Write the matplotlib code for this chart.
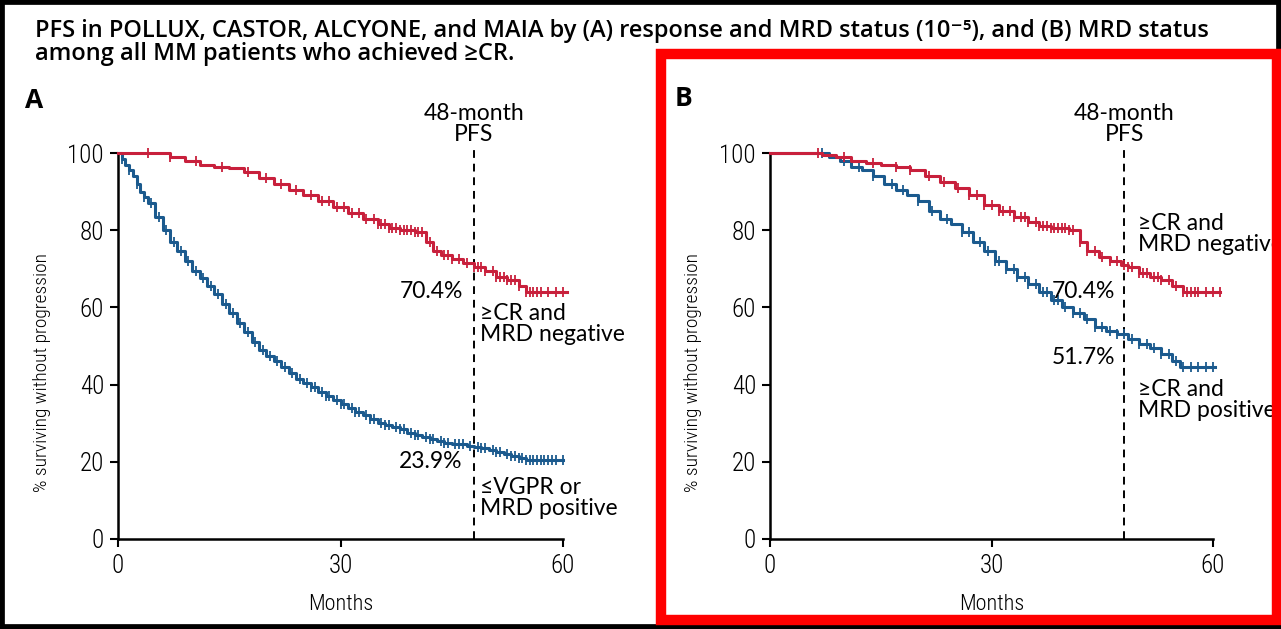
import numpy as np
import matplotlib
matplotlib.use('Agg')
from matplotlib import pyplot as plt
from matplotlib.patches import Rectangle

# Kaplan-Meier step points (months, % progression-free)
a_neg_t = [0, 5, 7, 9, 11, 13, 15, 17, 19, 21, 23, 25, 27, 29, 31, 33, 35, 36.5, 38, 40,
           41.5, 42.5, 43.5, 45, 46.5, 48, 49.5, 51, 52.5, 54, 55, 60.5]
a_neg_s = [100, 100, 99, 98, 97, 96.5, 96, 95, 93.5, 92, 90.5, 89, 87.5, 86, 84.5, 83, 81.5, 80.5, 80, 79.5,
           77, 74.5, 73.5, 72.5, 71.5, 70.4, 69.5, 68, 67, 65.5, 64, 64]
a_neg_cens = [4, 7, 10.5, 14, 17.5, 20, 22, 24, 26, 27.5, 28.5, 29.5, 30.5, 31.5, 32.5, 33.5, 34.5, 35,
              35.5, 36, 36.5, 37, 37.5, 38, 38.5, 39, 39.5, 40, 40.5, 41, 42, 43, 44, 44.5, 45, 46, 47,
              48, 48.5, 49, 49.5, 50.5, 51, 51.5, 52, 52.5, 53, 53.5, 54, 55, 55.5, 56, 56.5, 57, 58, 59, 60]

a_pos_t = [0, 0.5, 1, 1.5, 2, 2.5, 3, 3.5, 4, 5, 6, 7, 8, 9, 10, 11, 12, 13, 14, 15, 16, 17, 18, 19,
           20, 21, 22, 23, 24, 25, 26, 27, 28, 29, 30, 31, 32, 33, 34, 35, 36, 37, 38, 39, 40, 41, 42,
           43, 44, 45, 46, 47, 48, 49, 50, 51, 52, 53, 54, 55, 56, 60]
a_pos_s = [100, 98.5, 97, 95.5, 94, 92, 90, 88.5, 87, 83.5, 80, 77, 74.5, 72, 69.5, 67.5, 65.5, 63.5,
           61, 58.5, 56, 53.5, 51, 49, 47.5, 46, 44.5, 43, 41.5, 40.5, 39.5, 38, 37, 36, 35, 34, 33, 32,
           31, 30, 29.5, 29, 28.5, 27.5, 27, 26.5, 26, 25.5, 25, 24.5, 24.5, 24, 23.9, 23.5, 23, 22.5,
           22, 21.5, 21, 20.5, 20.5, 20.5]
a_pos_cens = [0.5, 1.5, 2.5, 3.5, 4.5, 5.5, 6.5, 7.5, 8.5, 9.5, 10.5, 11.5, 12.5, 13.5, 14.5, 15.5,
              16.5, 17.5, 18.5, 19.5, 20.5, 21.5, 22.5, 23.5, 24.5, 25.5, 26, 26.5, 27.5, 28, 28.5,
              29.5, 30, 30.5, 31.5, 32, 32.5, 33.5, 34, 34.5, 35.5, 36, 36.5, 37.5, 38, 38.5, 39.5,
              40, 40.5, 41.5, 42, 42.5, 43.5, 44, 44.5, 45.5, 46, 46.5, 47.5, 48.5, 49, 49.5, 50.5,
              51, 51.5, 52.5, 53, 53.5, 54, 54.5, 55, 55.5, 56, 56.5, 57, 57.5, 58, 58.5, 59, 60]

b_neg_t = [0, 4.5, 7, 9, 11, 13, 15, 17, 19, 21, 23, 25, 27, 29, 31, 33, 35, 36.5, 38, 40.5,
           42, 43, 44.5, 46, 47.5, 48.5, 50, 51.5, 53, 54.5, 56, 61]
b_neg_s = [100, 100, 99.5, 99, 98, 97.5, 97, 96.5, 95.5, 94, 92.5, 91, 89, 86.5, 85, 83.5, 82, 81,
           80.5, 80, 77, 74.5, 73, 72, 71, 70.4, 69, 68, 67, 65.5, 64, 64]
b_neg_cens = [6.5, 10, 14, 17, 19, 21.5, 23.5, 25.5, 27, 28, 29, 30, 31, 31.5, 32.5, 33, 34, 34.5,
              35, 36, 36.5, 37, 37.5, 38, 38.5, 39, 39.5, 40, 40.5, 41, 42, 43, 44, 45, 46, 47, 48,
              48.5, 49, 50, 50.5, 51, 52, 52.5, 53, 54, 55, 56, 56.5, 57, 57.5, 58, 59, 60, 61]

b_pos_t = [0, 6.5, 8, 9.5, 11, 12.5, 14, 15.5, 17, 18.5, 20, 21.5, 23, 24.5, 26, 27.5, 29, 30.5,
           32, 33.5, 35, 36.5, 38, 39.5, 41, 42.5, 44, 45.5, 47, 48.5, 50, 51.5, 53, 54.5, 55.5, 60.3]
b_pos_s = [100, 100, 99, 98, 96.5, 95.5, 94, 92, 90.5, 89, 87.5, 85, 83, 81.5, 79.5, 77, 74.5, 72,
           70, 68, 66, 64, 62, 60, 58.5, 57, 55, 54, 53, 51.7, 50.5, 49.5, 48, 46, 44.5, 44.5]
b_pos_cens = [7, 10, 12, 14, 16.5, 18, 20, 22, 24, 26, 27, 28.5, 29.5, 30.5, 31, 32, 33, 33.5,
              34.5, 35, 36, 37, 37.5, 38.5, 39, 40, 41, 42, 43, 44, 45, 46, 47, 48, 49, 50, 51, 52,
              53, 54, 55, 56, 57, 58, 59, 60]

RED = '#c8203c'
BLUE = '#1b5a8e'
TXT = ['Lato', 'DejaVu Sans']
NARROW = ['Roboto Condensed', 'DejaVu Sans']

W, H = 1281, 629
fig = plt.figure(figsize=(W / 100, H / 100), dpi=100)


def narrow(lab, size):
    lab.set_family(NARROW)
    lab.set_stretch('condensed')
    lab.set_fontweight('light')
    lab.set_fontsize(size)


def km(ax, t, s, cens, color):
    t = np.asarray(t, float)
    s = np.asarray(s, float)
    ax.plot(t, s, drawstyle='steps-post', color=color, lw=2.2, clip_on=False, zorder=3)
    c = np.asarray(cens, float)
    idx = np.searchsorted(t, c, side='right') - 1
    ax.plot(c, s[idx], ls='none', marker='|', ms=7, mew=1.3, color=color, clip_on=False, zorder=3)


def setup(ax):
    ax.set_xlim(0, 60)
    ax.set_ylim(0, 100)
    ax.set_xticks([0, 30, 60])
    ax.set_yticks([0, 20, 40, 60, 80, 100])
    for side in ('top', 'right'):
        ax.spines[side].set_visible(False)
    for side in ('left', 'bottom'):
        ax.spines[side].set_linewidth(1.8)
    ax.tick_params(direction='out', length=6, width=1.5, pad=4)
    for lab in ax.get_xticklabels() + ax.get_yticklabels():
        narrow(lab, 18)
    ax.tick_params(axis='x', pad=5)
    xl = ax.set_xlabel('Months', labelpad=11)
    narrow(xl, 16)
    ax.axvline(48, ymin=0, ymax=1.01, color='black', lw=1.4, dashes=(4, 3), clip_on=False, zorder=2)
    ax.text(48, 102, '48-month\nPFS', ha='center', va='bottom', family=TXT, fontsize=16.5,
            linespacing=1.0)


def axes_at(left, right):
    return fig.add_axes([left / W, 1 - 539 / H, (right - left) / W, (539 - 153) / H])


axA = axes_at(118, 563)
setup(axA)
km(axA, a_pos_t, a_pos_s, a_pos_cens, BLUE)
km(axA, a_neg_t, a_neg_s, a_neg_cens, RED)
axA.text(46.5, 64, '70.4%', ha='right', va='center', family=TXT, fontsize=16.5)
axA.text(46.5, 20, '23.9%', ha='right', va='center', family=TXT, fontsize=16.5)
axA.text(48.8, 55.7, '≥CR and\nMRD negative', ha='left', va='center', family=TXT, fontsize=16.5,
         linespacing=1.0)
axA.text(48.8, 10.6, '≤VGPR or\nMRD positive', ha='left', va='center', family=TXT, fontsize=16.5,
         linespacing=1.0)

axB = axes_at(770, 1213)
setup(axB)
km(axB, b_pos_t, b_pos_s, b_pos_cens, BLUE)
km(axB, b_neg_t, b_neg_s, b_neg_cens, RED)
axB.text(46.8, 64.2, '70.4%', ha='right', va='center', family=TXT, fontsize=16.5)
axB.text(46.8, 46.9, '51.7%', ha='right', va='center', family=TXT, fontsize=16.5)
axB.text(49.9, 79, '≥CR and\nMRD negative', ha='left', va='center', family=TXT, fontsize=16.5,
         linespacing=1.0)
axB.text(49.9, 36, '≥CR and\nMRD positive', ha='left', va='center', family=TXT, fontsize=16.5,
         linespacing=1.0)

# y labels and panel letters
for x in (42, 693):
    yl = fig.text(x / W, 1 - 372 / H, '% surviving without progression', rotation=90, ha='center',
                  va='center')
    narrow(yl, 14)
fig.text(25 / W, 1 - 100 / H, 'A', family=['Open Sans', 'DejaVu Sans'], fontweight='bold',
         fontsize=19, va='center')
fig.text(675 / W, 1 - 98 / H, 'B', family=['Open Sans', 'DejaVu Sans'], fontweight='bold',
         fontsize=19, va='center')

fig.text(35 / W, 1 - 19 / H,
         'PFS in POLLUX, CASTOR, ALCYONE, and MAIA by (A) response and MRD status (10⁻⁵), and (B) MRD status\n'
         'among all MM patients who achieved ≥CR.',
         ha='left', va='top', family=['Open Sans', 'DejaVu Sans'], fontweight='semibold', fontsize=17,
         linespacing=0.92)

# outer frame and highlight box
fig.patches.append(Rectangle((0, 0), 1, 1, transform=fig.transFigure, fill=False,
                             ec='black', lw=7, zorder=20))
fig.patches.append(Rectangle((661 / W, 1 - 620 / H), (1277 - 661) / W, (620 - 54) / H,
                             transform=fig.transFigure, fill=False, ec='#ff0000', lw=7.5, zorder=20))

fig.savefig('out.png', dpi=100)
